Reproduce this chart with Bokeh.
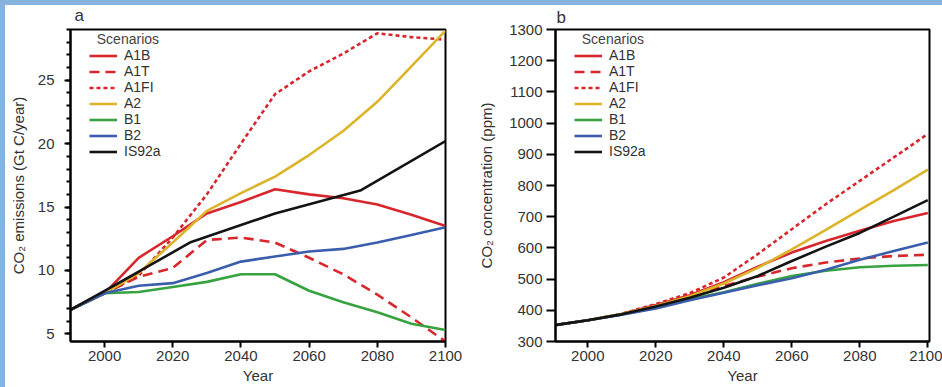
from bokeh.plotting import figure
from bokeh.layouts import row
from bokeh.models import FixedTicker, Range1d, Label, Legend, LegendItem
from bokeh.embed import file_html
from bokeh.resources import INLINE

# ---------------- data ----------------
scenarios = ["A1B", "A1T", "A1FI", "A2", "B1", "B2", "IS92a"]

years = [1990, 2000, 2010, 2020, 2030, 2040, 2050, 2060, 2070, 2080, 2090, 2100]
is92a_years = [1990, 2000, 2010, 2025, 2050, 2075, 2100]

# panel a: CO2 emissions (Gt C/year)
emis_A1B = [6.9, 8.2, 11.0, 12.7, 14.5, 15.4, 16.4, 16.0, 15.7, 15.2, 14.4, 13.5]
emis_A1T = [6.9, 8.2, 9.5, 10.2, 12.4, 12.6, 12.2, 11.0, 9.7, 8.1, 6.3, 4.4]
emis_A1FI = [6.9, 8.2, 9.6, 12.6, 16.0, 20.0, 23.9, 25.7, 27.1, 28.7, 28.4, 28.2]
emis_A2 = [6.9, 8.2, 9.8, 12.2, 14.7, 16.1, 17.4, 19.1, 21.0, 23.3, 26.1, 28.9]
emis_B1 = [6.9, 8.2, 8.3, 8.7, 9.1, 9.7, 9.7, 8.4, 7.5, 6.7, 5.8, 5.3]
emis_B2 = [6.9, 8.2, 8.8, 9.0, 9.8, 10.7, 11.1, 11.5, 11.7, 12.2, 12.8, 13.4]
emis_IS92a = [6.9, 8.4, 9.9, 12.2, 14.5, 16.3, 20.2]

# panel b: CO2 concentration (ppm)
conc_A1B = [352, 368, 388, 417, 448, 490, 540, 585, 622, 655, 686, 712]
conc_A1T = [352, 368, 388, 414, 445, 478, 508, 535, 553, 566, 574, 578]
conc_A1FI = [352, 368, 389, 420, 455, 505, 580, 660, 740, 815, 890, 965]
conc_A2 = [352, 368, 388, 414, 445, 486, 536, 595, 658, 722, 785, 851]
conc_B1 = [352, 368, 387, 410, 435, 458, 485, 510, 527, 538, 543, 545]
conc_B2 = [352, 368, 386, 406, 432, 456, 480, 503, 530, 562, 590, 617]
conc_IS92a = [352, 368, 387, 412, 440, 472, 510, 558, 604, 648, 700, 753]

x_ticks = [2000, 2020, 2040, 2060, 2080, 2100]
emis_ticks = [5, 10, 15, 20, 25]
emis_minor = list(range(5, 30))
conc_ticks = [300, 400, 500, 600, 700, 800, 900, 1000, 1100, 1200, 1300]

# ---------------- style ----------------
FONT = "Liberation Sans"
TXT = "#333333"
RED = "#d8262d"
styles = {
    "A1B": dict(color=RED, dash="solid"),
    "A1T": dict(color=RED, dash="10 6"),
    "A1FI": dict(color=RED, dash="4 3"),
    "A2": dict(color="#dcb42a", dash="solid"),
    "B1": dict(color="#36a340", dash="solid"),
    "B2": dict(color="#3a5eab", dash="solid"),
    "IS92a": dict(color="#141414", dash="solid"),
}


def make_panel(letter, ylabel, series, xs_map, yr, yticks, yminor, width,
               bl, bt, br, bb, ytick_out, ystandoff, ylabel_standoff,
               letter_x, letter_y):
    p = figure(width=width, height=382, output_backend="svg", toolbar_location=None,
               x_range=Range1d(1990, 2100), y_range=Range1d(*yr),
               min_border_left=bl, min_border_top=bt, min_border_right=br,
               min_border_bottom=bb, background_fill_color="white",
               border_fill_color="white")
    p.xgrid.visible = False
    p.ygrid.visible = False
    p.outline_line_color = "black"
    p.outline_line_width = 2

    items = []
    for name in scenarios:
        st = styles[name]
        r = p.line(xs_map[name], series[name], line_color=st["color"], line_width=2.6,
                   line_dash=st["dash"])
        items.append(LegendItem(label=name, renderers=[r]))

    leg = Legend(items=items, location=(19, 182), title="  Scenarios",
                 padding=0, margin=0, spacing=0, title_standoff=0,
                 glyph_width=28, glyph_height=15, label_height=15, label_standoff=7,
                 label_text_font=FONT, label_text_font_size="14px",
                 label_text_color=TXT, title_text_font=FONT,
                 title_text_font_size="14px", title_text_font_style="normal",
                 title_text_color="#444444", border_line_color=None,
                 background_fill_alpha=0)
    p.add_layout(leg)

    for ax in (p.xaxis[0], p.yaxis[0]):
        ax.axis_line_width = 2
        ax.axis_line_color = "black"
        ax.major_tick_line_color = "black"
        ax.major_tick_line_width = 2
        ax.minor_tick_line_color = "black"
        ax.minor_tick_line_width = 2
        ax.major_tick_in = 0
        ax.minor_tick_in = 0
        ax.major_label_text_font = FONT
        ax.major_label_text_font_size = "15px"
        ax.major_label_text_color = TXT
        ax.axis_label_text_font = FONT
        ax.axis_label_text_font_size = "15px"
        ax.axis_label_text_font_style = "normal"
        ax.axis_label_text_color = TXT

    p.xaxis.ticker = FixedTicker(ticks=x_ticks, minor_ticks=[])
    p.xaxis.major_tick_out = 6
    p.xaxis.major_label_standoff = 3
    p.xaxis.axis_label = "Year"
    p.xaxis.axis_label_standoff = 3

    p.yaxis.ticker = FixedTicker(ticks=yticks, minor_ticks=yminor)
    p.yaxis.major_tick_out = ytick_out
    p.yaxis.minor_tick_out = 4
    p.yaxis.major_label_standoff = ystandoff
    p.yaxis.axis_label = ylabel
    p.yaxis.axis_label_standoff = ylabel_standoff

    p.add_layout(Label(x=letter_x, y=letter_y, x_units="screen", y_units="screen",
                       text=letter, text_font=FONT, text_font_size="17px",
                       text_color=TXT, text_baseline="alphabetic"), "above")
    return p


emis = {"A1B": emis_A1B, "A1T": emis_A1T, "A1FI": emis_A1FI, "A2": emis_A2,
        "B1": emis_B1, "B2": emis_B2, "IS92a": emis_IS92a}
emis_x = {n: years for n in scenarios}
emis_x["IS92a"] = is92a_years

conc = {"A1B": conc_A1B, "A1T": conc_A1T, "A1FI": conc_A1FI, "A2": conc_A2,
        "B1": conc_B1, "B2": conc_B2, "IS92a": conc_IS92a}
conc_x = {n: years for n in scenarios}

p1 = make_panel("a", "CO\u2082 emissions (Gt C/year)", emis, emis_x, (4.4, 29),
                emis_ticks, emis_minor, 465, 65, 24, 25, 46, 6, 10, 8, 4, 14)
p2 = make_panel("b", "CO\u2082 concentration (ppm)", conc, conc_x, (300, 1300),
                conc_ticks, [], 472, 85, 23, 13, 46, 9, 4, 11, 1, 12)
p2.x_range = Range1d(1990.5, 2100.5)

layout = row(p1, p2, margin=(5, 0, 0, 5), styles={"background-color": "white"})

html = file_html(layout, INLINE)
html = html.replace("<head>", "<head><style>html,body{background:#86b3de;margin:0;}</style>", 1)
open("out.html", "w").write(html)
